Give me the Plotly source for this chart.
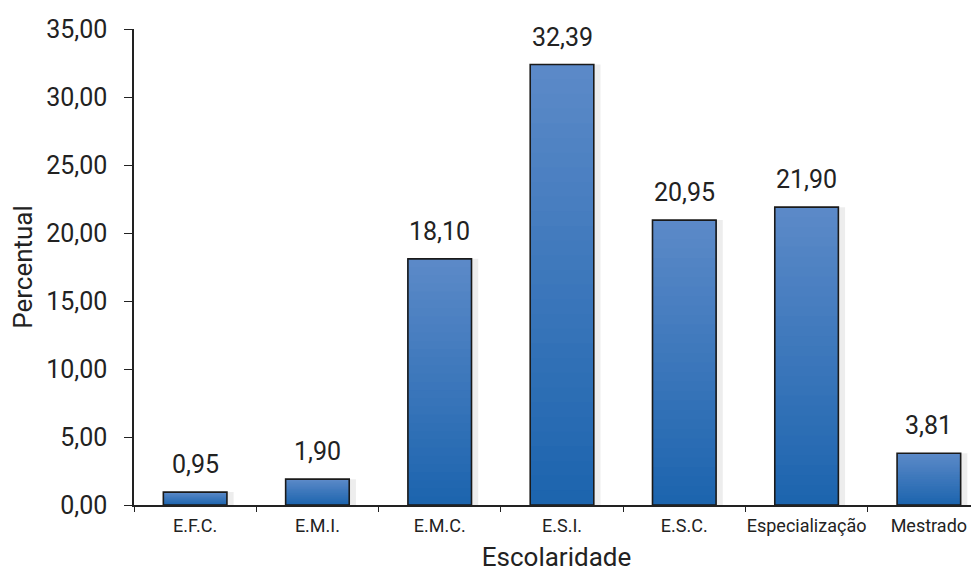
import plotly.graph_objects as go

categories = ["E.F.C.", "E.M.I.", "E.M.C.", "E.S.I.", "E.S.C.", "Especialização", "Mestrado"]
values = [0.95, 1.90, 18.10, 32.39, 20.95, 21.90, 3.81]
labels = ["0,95", "1,90", "18,10", "32,39", "20,95", "21,90", "3,81"]
y_ticks = [0, 5, 10, 15, 20, 25, 30, 35]

top_rgb = (92, 138, 200)
bot_rgb = (28, 100, 174)
N = 30
BAR_W = 0.52

fig = go.Figure()

# soft shadow behind bars
fig.add_trace(go.Bar(
    x=categories, y=values, width=BAR_W + 0.05,
    marker=dict(color="rgba(0,0,0,0.07)", line=dict(width=0)),
    hoverinfo="skip", showlegend=False, offset=-BAR_W / 2 + 0.005,
))

# gradient: each layer from a fraction of the value up to the top, drawn over the previous
for k in range(N):
    t = (k + 0.5) / N
    c = tuple(round(bot_rgb[i] + (top_rgb[i] - bot_rgb[i]) * t) for i in range(3))
    fig.add_trace(go.Bar(
        x=categories,
        y=[v * (1 - k / N) for v in values],
        base=[v * k / N for v in values],
        width=BAR_W,
        marker=dict(color="rgb(%d,%d,%d)" % c, line=dict(width=0)),
        hoverinfo="skip", showlegend=False,
    ))

# outline
fig.add_trace(go.Bar(
    x=categories, y=values, width=BAR_W,
    marker=dict(color="rgba(0,0,0,0)", line=dict(color="#1a1a1a", width=1.6)),
    showlegend=False,
))

for cat, v, lab in zip(categories, values, labels):
    fig.add_annotation(x=cat, y=v, text=lab, showarrow=False, yanchor="bottom",
                       yshift=11, font=dict(family="Roboto", size=25, color="#222"))

fig.update_layout(
    width=971, height=564,
    margin=dict(l=126, r=0, t=21, b=67),
    paper_bgcolor="white", plot_bgcolor="white",
    barmode="overlay", separators=",.",
    font=dict(family="Roboto", color="#222"),
    xaxis=dict(
        range=[-0.5, 6.41], showline=True, linecolor="#222", linewidth=1.5,
        ticks="outside", tickson="boundaries", ticklen=5, tickcolor="#222",
        tickangle=0, ticklabelstandoff=4,
        tickfont=dict(family="Roboto", size=18, color="#222"),
        title=dict(text="Escolaridade", font=dict(family="Roboto", size=26, color="#222"), standoff=23),
        showgrid=False, zeroline=False, automargin=False,
    ),
    yaxis=dict(
        range=[0, 35], tickvals=y_ticks, tickformat=".2f",
        showline=True, linecolor="#222", linewidth=1.5,
        ticks="outside", ticklen=8, tickcolor="#222",
        ticklabelstandoff=12,
        tickfont=dict(family="Roboto", size=25, color="#222"),
        title=dict(text="Percentual", font=dict(family="Roboto", size=26, color="#222"), standoff=12),
        showgrid=False, zeroline=False, automargin=False,
    ),
)

fig.write_html("out.html")
